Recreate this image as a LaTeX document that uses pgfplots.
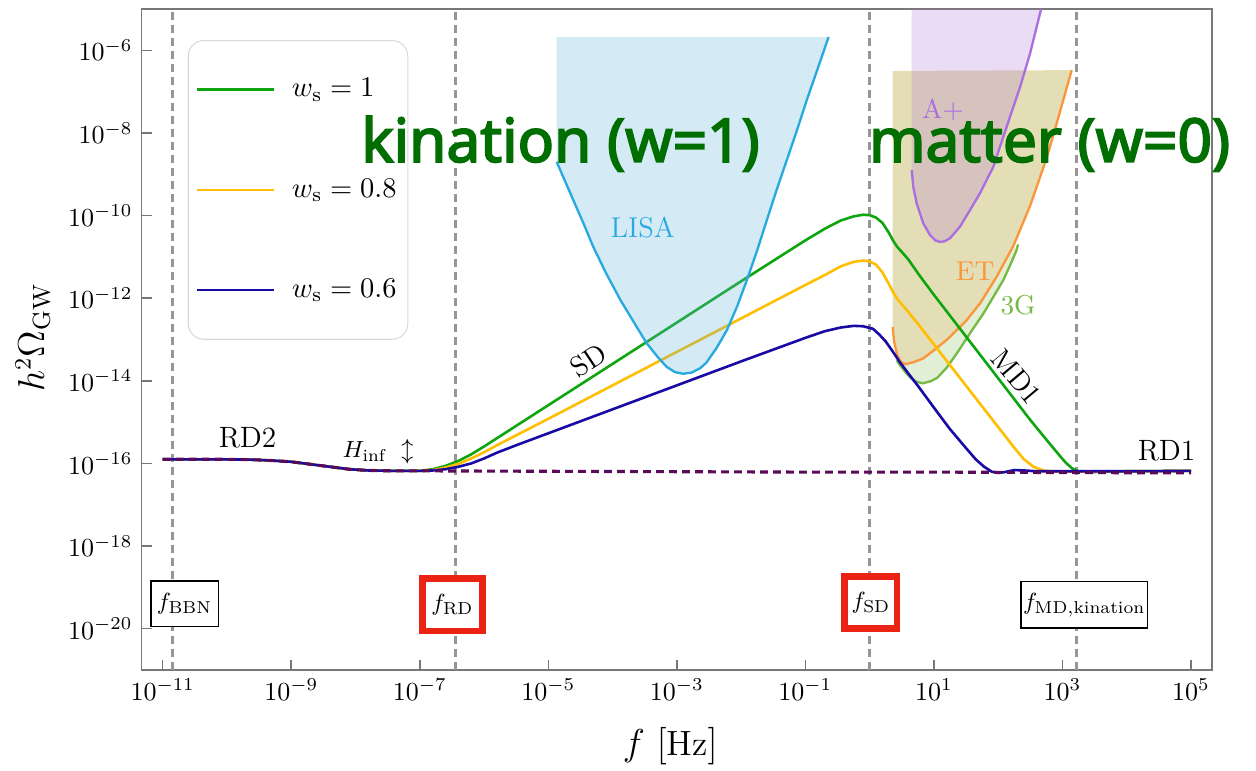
\documentclass[border=0pt]{standalone}
\usepackage{pgfplots}
\pgfplotsset{compat=1.18}
\usepackage{fontspec}
\newfontfamily\annfont{Noto Sans}[FakeBold=3]

\definecolor{cGreen}{RGB}{15,165,15}
\definecolor{cYellow}{RGB}{255,190,0}
\definecolor{cBlue}{RGB}{25,10,165}
\definecolor{cRD}{RGB}{90,10,90}
\definecolor{cLisa}{RGB}{40,170,225}
\definecolor{cLisaFill}{RGB}{100,180,220}
\definecolor{cAplus}{RGB}{170,110,225}
\definecolor{cAplusFill}{RGB}{175,115,215}
\definecolor{cET}{RGB}{250,150,60}
\definecolor{cETFill}{RGB}{228,222,182}
\definecolor{cThreeG}{RGB}{120,185,70}
\definecolor{cThreeGFill}{RGB}{226,239,215}
\definecolor{cAnn}{RGB}{0,110,0}
\definecolor{cBox}{RGB}{235,35,20}
\definecolor{cFrame}{RGB}{120,120,120}
\definecolor{cVline}{RGB}{150,150,150}

\begin{document}
\begin{tikzpicture}
\begin{axis}[
  scale only axis, width=411.65pt, height=254.23pt,
  xmin=-11.327, xmax=5.327, ymin=-21, ymax=-5,
  axis line style={cFrame, line width=0.6pt},
  xtick={-11,-9,...,5},
  xticklabels={$10^{-11}$,$10^{-9}$,$10^{-7}$,$10^{-5}$,$10^{-3}$,$10^{-1}$,$10^{1}$,$10^{3}$,$10^{5}$},
  ytick={-20,-18,...,-6},
  yticklabels={$10^{-20}$,$10^{-18}$,$10^{-16}$,$10^{-14}$,$10^{-12}$,$10^{-10}$,$10^{-8}$,$10^{-6}$},
  xtick pos=bottom, ytick pos=left, tick align=inside, major tick length=3.8pt,
  tick style={cFrame, line width=0.6pt},
  clip=false,
  xlabel={$f\ [\mathrm{Hz}]$},
  ylabel={$h^2\Omega_{\rm GW}$},
  xlabel style={at={(axis description cs:0.494,-0.115)}, anchor=center, font=\fontsize{13.5}{16}\selectfont},
  ylabel style={at={(axis description cs:-0.1016,0.503)}, anchor=center, font=\fontsize{13.5}{16}\selectfont},
  legend style={at={(0.043,0.953)}, anchor=north west, draw=black!15, rounded corners=6pt,
    fill=white, inner xsep=2.8pt, inner ysep=13.1pt, row sep=27pt,
    nodes={inner sep=1.5pt},
    font=\fontsize{11.3}{13}\selectfont, legend cell align=left,
    /tikz/every odd column/.append style={column sep=5pt}},
  legend image code/.code={\draw[#1] (0pt,0pt) -- (29.6pt,0pt);},
]

% characteristic frequencies
\addplot[cVline, line width=1.1pt, dash pattern=on 3pt off 2pt, forget plot] coordinates {(-10.85,-21) (-10.85,-5)};
\addplot[cVline, line width=1.1pt, dash pattern=on 3pt off 2pt, forget plot] coordinates {(-6.45,-21) (-6.45,-5)};
\addplot[cVline, line width=1.1pt, dash pattern=on 3pt off 2pt, forget plot] coordinates {(0.0,-21) (0.0,-5)};
\addplot[cVline, line width=1.1pt, dash pattern=on 3pt off 2pt, forget plot] coordinates {(3.22,-21) (3.22,-5)};

% ET sensitivity region
\addplot[fill=cETFill, draw=none, forget plot] coordinates {
  (0.358,-6.50) (0.358,-12.70) (0.38,-13.05) (0.43,-13.38) (0.49,-13.55) (0.56,-13.60)
  (0.70,-13.54) (0.83,-13.46) (1.0,-13.26) (1.2,-13.01) (1.5,-12.55) (1.72,-12.12)
  (1.98,-11.47) (2.24,-10.72) (2.5,-9.75) (2.76,-8.58) (2.91,-7.77) (3.04,-7.05) (3.144,-6.48)} -- cycle;
% 3G sensitivity region (below ET)
\addplot[fill=cThreeGFill, draw=none, forget plot] coordinates {
  (0.42,-13.50) (0.47,-13.62) (0.55,-13.78) (0.63,-13.92) (0.72,-14.02) (0.83,-14.06)
  (0.95,-14.01) (1.05,-13.93) (1.2,-13.68) (1.35,-13.35) (1.46,-13.09) (1.6,-12.76)
  (1.77,-12.37) (1.92,-11.98) (2.08,-11.56) (2.2,-11.15) (2.28,-10.86)
  (2.24,-10.72) (1.98,-11.47) (1.72,-12.12) (1.5,-12.55) (1.2,-13.01) (1.0,-13.26)
  (0.83,-13.46) (0.70,-13.54) (0.56,-13.60) (0.49,-13.55) (0.43,-13.38)} -- cycle;
% A+ sensitivity region
\addplot[fill=cAplusFill, fill opacity=0.25, draw=none, forget plot] coordinates {
  (0.654,-5.0) (0.654,-8.90) (0.679,-9.31) (0.732,-9.71) (0.834,-10.19) (0.939,-10.47)
  (1.02,-10.60) (1.094,-10.64) (1.17,-10.62) (1.25,-10.55) (1.405,-10.27) (1.561,-9.87)
  (1.716,-9.46) (1.924,-8.82) (2.132,-7.85) (2.34,-6.89) (2.495,-6.08) (2.65,-5.11) (2.668,-5.0)} -- cycle;

% detector curves
\addplot[cThreeG, line width=0.9pt, forget plot] coordinates {
  (0.42,-13.50) (0.47,-13.62) (0.55,-13.78) (0.63,-13.92) (0.72,-14.02) (0.83,-14.06)
  (0.95,-14.01) (1.05,-13.93) (1.2,-13.68) (1.35,-13.35) (1.46,-13.09) (1.6,-12.76)
  (1.77,-12.37) (1.92,-11.98) (2.08,-11.56) (2.2,-11.15) (2.28,-10.86) (2.31,-10.70)};
\addplot[cET, line width=0.9pt, forget plot] coordinates {
  (0.358,-12.70) (0.38,-13.05) (0.43,-13.38) (0.49,-13.55) (0.56,-13.60)
  (0.70,-13.54) (0.83,-13.46) (1.0,-13.26) (1.2,-13.01) (1.5,-12.55) (1.72,-12.12)
  (1.98,-11.47) (2.24,-10.72) (2.5,-9.75) (2.76,-8.58) (2.91,-7.77) (3.04,-7.05) (3.144,-6.48)};
\addplot[cAplus, line width=0.9pt, forget plot] coordinates {
  (0.654,-8.90) (0.679,-9.31) (0.732,-9.71) (0.834,-10.19) (0.939,-10.47)
  (1.02,-10.60) (1.094,-10.64) (1.17,-10.62) (1.25,-10.55) (1.405,-10.27) (1.561,-9.87)
  (1.716,-9.46) (1.924,-8.82) (2.132,-7.85) (2.34,-6.89) (2.495,-6.08) (2.65,-5.11) (2.668,-5.0)};

% spectra
\addplot[cGreen, line width=1pt] coordinates {
  (-11.0,-15.90) (-10.5,-15.90) (-10.0,-15.90) (-9.6,-15.91) (-9.3,-15.93) (-9.0,-15.96)
  (-8.7,-16.02) (-8.4,-16.08) (-8.1,-16.14) (-7.8,-16.17) (-7.4,-16.18) (-7.0,-16.18)
  (-6.8,-16.14) (-6.6,-16.06) (-6.4,-15.94) (-6.2,-15.78) (-6.0,-15.59) (-5.8,-15.39)
  (-5.5,-15.09) (-5.0,-14.59) (-4.0,-13.59) (-3.0,-12.59) (-2.0,-11.59) (-1.0,-10.60)
  (-0.7,-10.32) (-0.45,-10.12) (-0.25,-10.02) (-0.1,-9.98) (0.0,-9.99) (0.1,-10.05)
  (0.2,-10.18) (0.3,-10.42) (0.37,-10.62) (0.43,-10.76) (0.5,-10.88) (0.6,-11.06)
  (0.78,-11.46) (1.0,-11.92) (1.5,-12.93) (2.0,-13.94) (2.5,-14.95) (2.8,-15.52)
  (2.95,-15.80) (3.05,-15.98) (3.15,-16.12) (3.25,-16.19) (3.4,-16.21) (4.0,-16.19) (5.0,-16.18)};
\addlegendentry{$w_{\rm s} = 1$}
\addplot[cYellow, line width=1pt] coordinates {
  (-11.0,-15.90) (-10.5,-15.90) (-10.0,-15.90) (-9.6,-15.91) (-9.3,-15.93) (-9.0,-15.96)
  (-8.7,-16.02) (-8.4,-16.08) (-8.1,-16.14) (-7.8,-16.17) (-7.4,-16.18) (-7.0,-16.18)
  (-6.8,-16.16) (-6.6,-16.10) (-6.4,-16.01) (-6.2,-15.88) (-6.0,-15.73) (-5.8,-15.56)
  (-5.5,-15.32) (-5.0,-14.92) (-4.0,-14.11) (-3.0,-13.30) (-2.0,-12.49) (-1.0,-11.68)
  (-0.7,-11.44) (-0.45,-11.23) (-0.25,-11.12) (-0.1,-11.09) (0.0,-11.11) (0.1,-11.19)
  (0.2,-11.38) (0.3,-11.66) (0.38,-11.90) (0.45,-12.06) (0.55,-12.24) (0.73,-12.58)
  (1.0,-13.12) (1.5,-14.12) (2.0,-15.12) (2.25,-15.62) (2.4,-15.90) (2.55,-16.08)
  (2.7,-16.17) (2.85,-16.20) (3.0,-16.20) (4.0,-16.19) (5.0,-16.18)};
\addlegendentry{$w_{\rm s} = 0.8$}
\addplot[cBlue, line width=1pt] coordinates {
  (-11.0,-15.90) (-10.5,-15.90) (-10.0,-15.90) (-9.6,-15.91) (-9.3,-15.93) (-9.0,-15.96)
  (-8.7,-16.02) (-8.4,-16.08) (-8.1,-16.14) (-7.8,-16.17) (-7.4,-16.18) (-7.0,-16.18)
  (-6.8,-16.17) (-6.6,-16.14) (-6.4,-16.08) (-6.2,-16.00) (-6.0,-15.88) (-5.8,-15.74)
  (-5.5,-15.56) (-5.0,-15.27) (-4.0,-14.69) (-3.0,-14.11) (-2.0,-13.53) (-1.0,-12.96)
  (-0.7,-12.80) (-0.45,-12.71) (-0.25,-12.67) (-0.1,-12.68) (0.05,-12.74) (0.15,-12.88)
  (0.25,-13.05) (0.35,-13.27) (0.47,-13.55) (0.6,-13.82) (0.75,-14.12) (1.0,-14.65)
  (1.25,-15.17) (1.5,-15.63) (1.65,-15.90) (1.78,-16.08) (1.9,-16.20) (2.0,-16.23)
  (2.1,-16.21) (2.25,-16.16) (2.4,-16.17) (2.6,-16.19) (3.0,-16.19) (4.0,-16.19) (5.0,-16.18)};
\addlegendentry{$w_{\rm s} = 0.6$}
% standard radiation-dominated reference
\addplot[cRD, line width=1.2pt, dash pattern=on 3pt off 2pt, forget plot] coordinates {
  (-11.0,-15.90) (-10.5,-15.90) (-10.0,-15.90) (-9.6,-15.91) (-9.3,-15.93) (-9.0,-15.96)
  (-8.7,-16.02) (-8.4,-16.08) (-8.1,-16.14) (-7.8,-16.17) (-7.4,-16.18) (-7.0,-16.18)
  (-5.0,-16.19) (-3.0,-16.20) (-1.0,-16.21) (1.0,-16.21) (3.0,-16.22) (5.0,-16.23)};

% LISA sensitivity region
\addplot[fill=cLisaFill, fill opacity=0.28, draw=none, forget plot] coordinates {
  (-4.87,-5.68) (-4.87,-8.70) (-4.75,-9.13) (-4.61,-9.63) (-4.45,-10.20) (-4.30,-10.76)
  (-4.10,-11.40) (-3.88,-12.04) (-3.67,-12.58) (-3.47,-13.09) (-3.30,-13.42) (-3.16,-13.66)
  (-3.03,-13.79) (-2.90,-13.83) (-2.77,-13.80) (-2.64,-13.70) (-2.54,-13.56) (-2.38,-13.20)
  (-2.22,-12.77) (-2.06,-12.19) (-1.91,-11.56) (-1.75,-10.84) (-1.60,-10.11) (-1.45,-9.39)
  (-1.29,-8.66) (-1.13,-7.93) (-0.98,-7.21) (-0.81,-6.45) (-0.64,-5.68)} -- cycle;
\addplot[cLisa, line width=0.9pt, forget plot] coordinates {
  (-4.87,-8.70) (-4.75,-9.13) (-4.61,-9.63) (-4.45,-10.20) (-4.30,-10.76)
  (-4.10,-11.40) (-3.88,-12.04) (-3.67,-12.58) (-3.47,-13.09) (-3.30,-13.42) (-3.16,-13.66)
  (-3.03,-13.79) (-2.90,-13.83) (-2.77,-13.80) (-2.64,-13.70) (-2.54,-13.56) (-2.38,-13.20)
  (-2.22,-12.77) (-2.06,-12.19) (-1.91,-11.56) (-1.75,-10.84) (-1.60,-10.11) (-1.45,-9.39)
  (-1.29,-8.66) (-1.13,-7.93) (-0.98,-7.21) (-0.81,-6.45) (-0.64,-5.68)};

% labels
\node[font=\fontsize{11.3}{13}\selectfont] at (axis cs:-9.68,-15.38) {RD2};
\node[font=\fontsize{11.3}{13}\selectfont] at (axis cs:4.62,-15.70) {RD1};
\node[font=\fontsize{9.4}{11}\selectfont] at (axis cs:-7.65,-15.71) {$H_{\rm inf}\ \updownarrow$};
\node[font=\fontsize{11}{13}\selectfont, rotate=33.5] at (axis cs:-4.37,-13.51) {SD};
\node[font=\fontsize{11}{13}\selectfont, rotate=-50] at (axis cs:2.29,-13.90) {MD1};
\node[font=\fontsize{11}{13}\selectfont, text=cLisa] at (axis cs:-3.53,-10.28) {LISA};
\node[font=\fontsize{10.5}{12}\selectfont, text=cAplus] at (axis cs:1.14,-7.45) {A+};
\node[font=\fontsize{10.5}{12}\selectfont, text=cET] at (axis cs:1.64,-11.35) {ET};
\node[font=\fontsize{10.5}{12}\selectfont, text=cThreeG] at (axis cs:2.31,-12.17) {3G};

% frequency tags
\node[draw=black, line width=0.6pt, fill=white, inner sep=0pt, minimum width=26pt, minimum height=17.5pt,
  font=\fontsize{9.5}{11}\selectfont] at (axis cs:-10.66,-19.40) {$f_{\rm BBN}$};
\node[draw=cBox, line width=2.6pt, fill=white, inner sep=0pt, minimum width=22.9pt, minimum height=20.2pt,
  font=\fontsize{9.5}{11}\selectfont] at (axis cs:-6.49,-19.42) {$f_{\rm RD}$};
\node[draw=cBox, line width=2.6pt, fill=white, inner sep=0pt, minimum width=20.1pt, minimum height=19.9pt,
  font=\fontsize{9.5}{11}\selectfont] at (axis cs:0.02,-19.36) {$f_{\rm SD}$};
\node[draw=black, line width=0.6pt, fill=white, inner sep=0pt, minimum width=48.7pt, minimum height=17.7pt,
  font=\fontsize{9.5}{11}\selectfont] at (axis cs:3.34,-19.42) {$f_{\rm MD,kination}$};

\coordinate (kin) at (axis cs:-4.81,-8.70);
\coordinate (mat) at (axis cs:2.80,-8.70);
\end{axis}

\node[anchor=base, text=cAnn, font=\annfont\fontsize{23.2}{27}\selectfont] at (kin) {kination (w=1)};
\node[anchor=base, text=cAnn, font=\annfont\fontsize{23.2}{27}\selectfont] at (mat) {matter (w=0)};

\pgfresetboundingbox
\path ([xshift=-54.5pt,yshift=-38.46pt]current axis.south west)
  rectangle ([xshift=16.92pt,yshift=3.46pt]current axis.north east);
\end{tikzpicture}
\end{document}
